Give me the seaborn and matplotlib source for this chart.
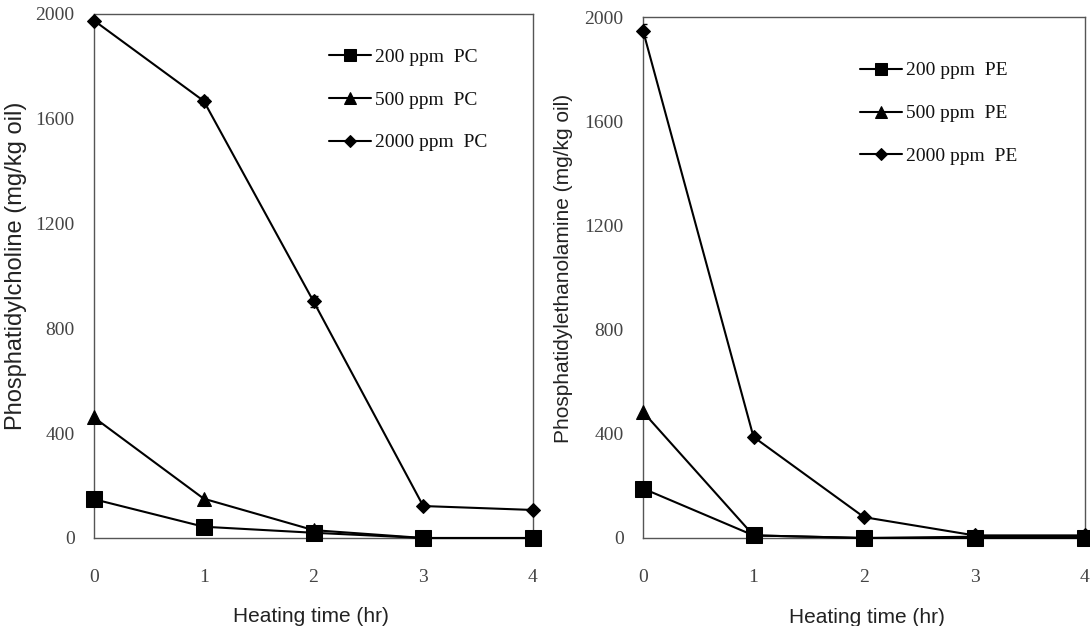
import numpy as np
import pandas as pd
import matplotlib
matplotlib.use("Agg")
import matplotlib.pyplot as plt
import seaborn as sns

hours = [0, 1, 2, 3, 4]
pc_labels = ["200 ppm  PC", "500 ppm  PC", "2000 ppm  PC"]
pc_200 = [148, 43, 20, 0, 0]
pc_500 = [460, 150, 30, 0, 0]
pc_2000 = [1975, 1668, 903, 122, 107]
pc_2000_err = [0, 15, 22, 0, 0]

pe_labels = ["200 ppm  PE", "500 ppm  PE", "2000 ppm  PE"]
pe_200 = [190, 10, 0, 0, 0]
pe_500 = [484, 10, 0, 5, 5]
pe_2000 = [1948, 388, 80, 10, 10]
pe_2000_err = [25, 0, 0, 0, 0]

yticks = [0, 400, 800, 1200, 1600, 2000]

sns.set_theme(style="white")
plt.rcParams["font.family"] = ["Liberation Serif", "DejaVu Serif"]

fig = plt.figure(figsize=(10.9, 6.26), dpi=100)
ax1 = fig.add_axes([94/1090, 88/626, 439/1090, 524/626])
ax2 = fig.add_axes([643/1090, 88/626, 442/1090, 521/626])

markers = ["s", "^", "D"]
sizes = [12, 10, 7]
leg_sizes = [9, 8, 6]


def draw(ax, labels, series, err, ylabel, ylab_size, ylab_coords,
         xlab_coords, leg_anchor):
    rows = []
    for lab, vals in zip(labels, series):
        for h, v in zip(hours, vals):
            rows.append({"hr": h, "val": v, "series": lab})
    df = pd.DataFrame(rows)
    for lab, m, s in zip(labels, markers, sizes):
        sub = df[df["series"] == lab]
        sns.lineplot(data=sub, x="hr", y="val", ax=ax, color="black",
                     marker=m, markersize=s, markeredgecolor="black",
                     linewidth=1.5, label=lab, clip_on=False, zorder=3)
    ax.errorbar(hours, series[2], yerr=err, fmt="none", ecolor="black",
                elinewidth=1, capsize=3, zorder=4)
    ax.set_xlim(0, 4)
    ax.set_ylim(0, 2000)
    ax.set_xticks(hours)
    ax.set_yticks(yticks)
    ax.tick_params(axis="x", direction="in", length=4, pad=22, labelsize=14,
                   colors="#444444")
    ax.tick_params(axis="y", direction="in", length=4, pad=14, labelsize=14,
                   colors="#444444")
    for sp in ax.spines.values():
        sp.set_color("#555555")
        sp.set_linewidth(1.0)
    ax.set_xlabel("Heating time (hr)", family=["Liberation Sans"], fontsize=15,
                  color="#222222")
    ax.set_ylabel(ylabel, family=["Liberation Sans"], fontsize=ylab_size,
                  color="#222222")
    ax.yaxis.set_label_coords(*ylab_coords)
    ax.xaxis.set_label_coords(*xlab_coords)
    leg = ax.legend(loc="upper left", frameon=False, fontsize=14,
                    handlelength=2.15, labelspacing=1.3, handletextpad=0.2,
                    borderpad=0, borderaxespad=0,
                    bbox_to_anchor=leg_anchor)
    for line, ms in zip(leg.get_lines(), leg_sizes):
        line.set_linewidth(1.5)
        line.set_markersize(ms)
    for t in leg.get_texts():
        t.set_color("#111111")


draw(ax1, pc_labels, [pc_200, pc_500, pc_2000], pc_2000_err,
     "Phosphatidylcholine (mg/kg oil)", 17, (-0.153, 0.52),
     (0.494, -0.132), (0.535, 0.935))
draw(ax2, pe_labels, [pe_200, pe_500, pe_2000], pe_2000_err,
     "Phosphatidylethanolamine (mg/kg oil)", 15, (-0.158, 0.518),
     (0.507, -0.134), (0.491, 0.914))

fig.savefig("out.png", dpi=100)
